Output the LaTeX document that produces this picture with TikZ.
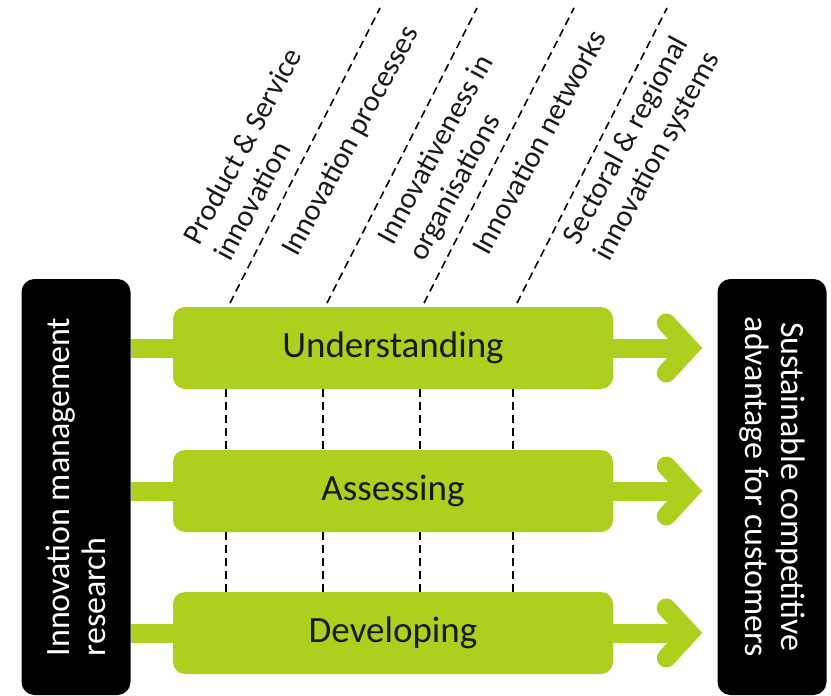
\documentclass[tikz,border=0pt]{standalone}
\usepackage{fontspec}
\setmainfont{Carlito}
\usetikzlibrary{positioning}
\definecolor{leaf}{RGB}{173,207,30}
\definecolor{ink}{RGB}{25,25,25}
\tikzset{
  stage/.style={fill=leaf, rounded corners=12pt, minimum width=440pt, minimum height=82pt,
    text=ink, font=\fontsize{37}{40}\selectfont},
  pillar/.style={fill=black, rounded corners=13pt, minimum width=416pt, minimum height=109pt,
    text=white, font=\fontsize{34}{36}\selectfont, align=left},
  topic/.style={rotate=61.5, anchor=base west, inner sep=0pt, align=left, text=ink,
    font=\fontsize{30}{35}\selectfont},
  feed/.style={leaf, line width=19pt},
  sep/.style={dash pattern=on 8pt off 5pt, line width=1.6pt},
}

\begin{document}
\begin{tikzpicture}[x=1pt, y=-1pt]
%
\useasboundingbox (0,0) rectangle (831,696);
%
% research in, advantage out
\node[pillar, rotate=90] (imr) at (76,487) {Innovation management\\research};
\node[pillar, rotate=-90, align=center] (sca) at (772,487) {Sustainable competitive\\advantage for customers};
%
% the three stages
\node[stage] (und) at (393,348) {Understanding};
\node[stage] (ass) at (393,491) {Assessing};
\node[stage] (dev) at (393,633) {Developing};
%
\foreach \s in {und,ass,dev} {
  \draw[feed] (\s.west) -- (\s.west -| imr.south);
  \path (sca.south |- \s) ++(-28,0) coordinate (\s-tip);
  \draw[feed] (\s.east) -- (\s-tip);
  \draw[feed, line cap=round] ([shift={(-23,-25)}]\s-tip) -- (\s-tip) -- ++(-23,25);
}
%
% column separators
\foreach \x in {226,323,420,513} {
  \draw[sep] (und.south -| \x,0) -- (ass.north -| \x,0);
  \draw[sep] (ass.south -| \x,0) -- (dev.north -| \x,0);
  \draw[sep] (\x+4,303) -- (\x+154,8);
}
%
% research areas
\node[topic] (psi) at (230,263) {Product \& Service\\innovation};
\node[topic] (ipr) at (297,258) {Innovation processes};
\node[topic] (ior) at (424,263) {Innovativeness in\\organisations};
\node[topic] (inw) at (488,257) {Innovation networks};
\node[topic] (srs) at (609,263) {Sectoral \& regional\\innovation systems};
%
\end{tikzpicture}
\end{document}
